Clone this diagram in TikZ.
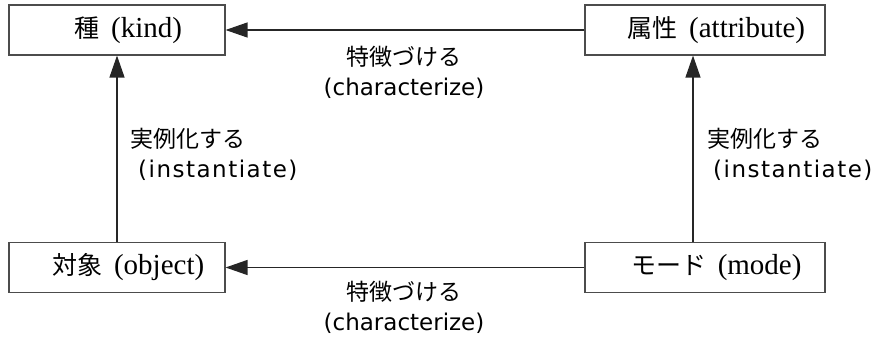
\documentclass[tikz,border=0pt]{standalone}
\usepackage{fontspec}
\setmainfont{Liberation Serif}
\newfontfamily\jpfont{Noto Sans CJK JP}
\newfontfamily\labfont{DejaVu Sans}
\newfontfamily\labwidefont[LetterSpace=6.5]{DejaVu Sans}
\usetikzlibrary{arrows.meta}
\newcommand{\lat}[1]{{\fontsize{29}{30}\selectfont #1}}
\newcommand{\llat}[1]{{\labfont\fontsize{23}{30}\selectfont #1}}
\newcommand{\wlat}[1]{{\labwidefont\fontsize{23}{30}\selectfont #1}}
\newcommand{\lead}{\null\hspace{23pt}}
\begin{document}
\begin{tikzpicture}[x=1pt,y=-1pt,
  box/.style={draw=black!70,line width=1.1pt,fill=white,minimum width=216pt,minimum height=50pt,inner sep=0pt,
    font=\fontsize{25}{30}\selectfont},
  arr/.style={draw=black!85,line width=1.2pt,-{Triangle[length=22pt,width=15pt]}},
  lab/.style={inner sep=0pt,font=\fontsize{23}{30}\selectfont}
]
\useasboundingbox (0,0) rectangle (875,337);
\node[box] (kind) at (117,30) {\lead{\jpfont 種}\hspace{0.45em}\lat{(kind)}};
\node[box,minimum width=240pt] (attr) at (705,30) {\lead{\jpfont 属性}\hspace{0.45em}\lat{(attribute)}};
\node[box] (obj) at (117,267.5) {\lead{\jpfont 対象}\hspace{0.45em}\lat{(object)}};
\node[box,minimum width=240pt] (mode) at (705,267.5) {\lead{\jpfont モード}\hspace{0.45em}\lat{(mode)}};
\draw[arr] (attr.west) -- (kind.east);
\draw[arr] (mode.west) -- (obj.east);
\draw[arr] (obj.north) -- (kind.south);
\draw[arr] ([xshift=-12pt]mode.north) -- ([xshift=-12pt]attr.south);
\node[lab,align=center] (c1) at (404,72) {{\jpfont 特徴づける}\\\llat{(characterize)}};
\node[lab,align=center] (c2) at (404,307) {{\jpfont 特徴づける}\\\llat{(characterize)}};
\node[lab,align=left,anchor=west] (i1) at (130,154) {{\jpfont 実例化する}\\\hspace{8pt}\wlat{(instantiate)}};
\node[lab,align=left,anchor=west] (i2) at (707,154) {{\jpfont 実例化する}\\\hspace{6pt}\wlat{(instantiate)}};
\end{tikzpicture}
\end{document}
